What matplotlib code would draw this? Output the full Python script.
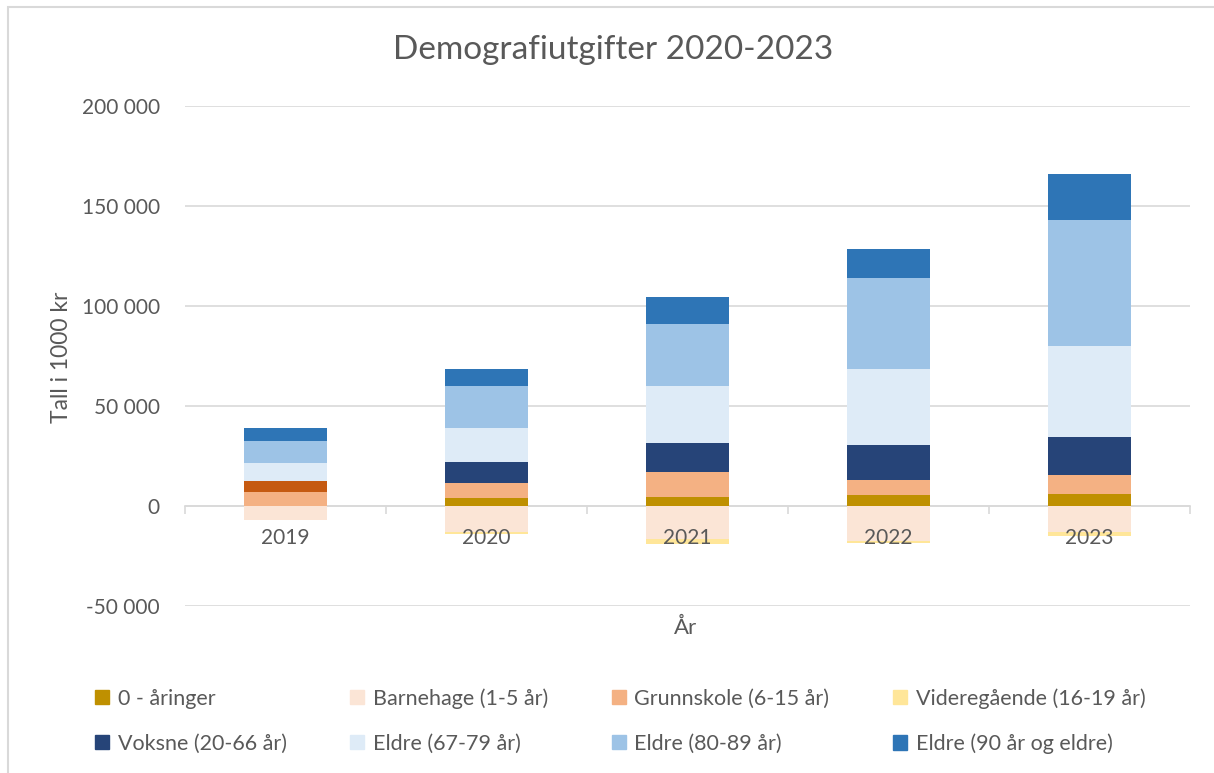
import matplotlib.pyplot as plt
import matplotlib.patches as mpatches
from matplotlib.ticker import FuncFormatter, FixedLocator
import numpy as np

plt.rcParams['font.family'] = ['Lato', 'DejaVu Sans']

# data (1000 kr)
years = ['2019', '2020', '2021', '2022', '2023']
series = ['0 - åringer', 'Barnehage (1-5 år)', 'Grunnskole (6-15 år)',
          'Videregående (16-19 år)', 'Voksne (20-66 år)', 'Eldre (67-79 år)',
          'Eldre (80-89 år)', 'Eldre (90 år og eldre)']
aaringer = [0, 4200, 4700, 5300, 6200]
barnehage = [-6800, -12800, -16700, -17300, -13200]
grunnskole = [7000, 7200, 12300, 7700, 9200]
videregaende = [-400, -1200, -2300, -1300, -1700]
voksne = [5500, 10800, 14300, 17300, 19300]
eldre_67_79 = [9200, 17000, 28800, 38200, 45500]
eldre_80_89 = [10700, 20800, 30700, 45300, 62800]
eldre_90 = [6800, 8350, 13500, 14700, 23000]

values = [aaringer, barnehage, grunnskole, videregaende, voksne,
          eldre_67_79, eldre_80_89, eldre_90]
colors = ['#BF9000', '#FBE5D6', '#F4B183', '#FFE699', '#264478',
          '#DEEBF7', '#9DC3E6', '#2E75B6']
# the 2019 point of Voksne is coloured differently in the original
point_colors = {(4, 0): '#C55A11'}

fig = plt.figure(figsize=(12.14, 7.73), dpi=100)
ax = fig.add_axes([185/1214, 167/773, 1005/1214, 500/773])

x = np.arange(len(years))
pos_base = np.zeros(len(years))
neg_base = np.zeros(len(years))
handles = []
for i, (name, vals) in enumerate(zip(series, values)):
    vals = np.array(vals, dtype=float)
    base = np.where(vals >= 0, pos_base, neg_base)
    cols = [point_colors.get((i, j), colors[i]) for j in range(len(years))]
    ax.bar(x, vals, bottom=base, width=0.41, color=cols, zorder=3)
    pos_base += np.where(vals >= 0, vals, 0)
    neg_base += np.where(vals < 0, vals, 0)
    handles.append(mpatches.Patch(color=colors[i], label=name))

ax.set_xlim(-0.5, 4.5)
ax.set_ylim(-50000, 200000)
ax.set_yticks(np.arange(-50000, 200001, 50000))
ax.yaxis.set_major_formatter(FuncFormatter(lambda v, p: f'{int(v):,}'.replace(',', ' ')))
ax.grid(axis='y', color='#D9D9D9', linewidth=1.2, zorder=0)
for s in ['top', 'right', 'left']:
    ax.spines[s].set_visible(False)
ax.spines['bottom'].set_position(('data', 0))
ax.spines['bottom'].set_color('#D9D9D9')
ax.spines['bottom'].set_linewidth(1.2)
ax.spines['bottom'].set_zorder(2)

ax.set_xticks(x)
ax.set_xticklabels(years)
ax.xaxis.set_minor_locator(FixedLocator(np.arange(-0.5, 4.6, 1.0)))
ax.tick_params(axis='x', which='major', length=0, pad=16, labelsize=15, labelcolor='#595959')
ax.tick_params(axis='x', which='minor', length=6, width=1.2, color='#D9D9D9')
ax.tick_params(axis='y', length=0, pad=18, labelsize=15, labelcolor='#595959')
ax.xaxis.set_zorder(5)  # year labels sit on top of the negative bars

fig.text(613/1214, 1 - 50/773, 'Demografiutgifter 2020-2023', ha='center', va='center',
         fontsize=24, color='#595959')
fig.text(686/1214, 1 - 628/773, 'År', ha='center', va='center', fontsize=16, color='#595959')
fig.text(62/1214, 1 - 357/773, 'Tall i 1000 kr', ha='center', va='center', rotation=90,
         fontsize=16.5, color='#595959')

order = [0, 4, 1, 5, 2, 6, 3, 7]
leg = fig.legend([handles[k] for k in order], [series[k] for k in order], ncol=4,
                 loc='center left', bbox_to_anchor=(76/1214, 1 - 721/773), frameon=False,
                 fontsize=15.5, labelcolor='#595959', handlelength=0.65, handleheight=0.65,
                 handletextpad=0.4, columnspacing=2.95, labelspacing=1.15)

fig.patches.append(mpatches.Rectangle((8/1214, -0.1), 1.2, (773 - 7)/773 + 0.1,
                                      transform=fig.transFigure, fill=False,
                                      edgecolor='#D9D9D9', linewidth=1.5))

fig.savefig('out.png', dpi=100)
